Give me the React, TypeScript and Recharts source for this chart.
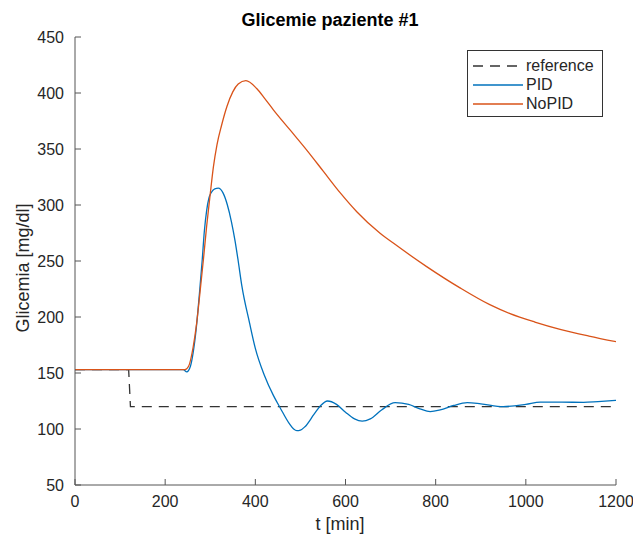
import { LineChart, Line, XAxis, YAxis, Legend } from "recharts";

const FONT = "'Liberation Sans', Arial, sans-serif";

// reference setpoint
const refT = [0, 119, 123, 1200];
const refV = [153, 153, 120, 120];

// PID controlled glycemia
const pidT = [0, 240, 248, 256, 262, 269, 276, 282, 287, 292, 297, 302, 310, 318, 328, 338, 347, 355, 362, 370, 387, 400, 420, 440, 455, 475, 485, 492, 500, 510, 530, 545, 560, 580, 600, 620, 637, 655, 680, 710, 740, 765, 788, 810, 840, 870, 900, 950, 1000, 1032, 1080, 1128, 1160, 1200];
const pidV = [153, 153, 151, 156, 168, 190, 221, 250, 277, 295, 306, 311, 314.5, 315, 311, 300, 285, 268, 250, 228, 195, 172, 148, 130, 119, 105, 100, 98.5, 99, 102, 113, 121, 125, 122, 115, 109, 107, 109, 117, 123.5, 122, 118, 115.5, 117, 121, 123.5, 122.5, 120, 122, 124, 124, 123.8, 124.5, 125.5];

// without PID
const noPidT = [0, 244, 252, 262, 270, 277, 285, 292, 300, 307, 315, 325, 337, 350, 362, 379, 403, 421, 440, 477, 514, 551, 588, 625, 676, 706, 780, 854, 920, 965, 1020, 1076, 1140, 1200];
const noPidV = [153, 153, 156, 173, 195, 221, 252, 281, 310, 334, 354, 371, 388, 401, 408, 411, 404, 395, 385, 367, 349, 330, 311, 294, 275, 266, 245, 226, 211, 203, 195.5, 189, 183, 178];

const xTicks = [0, 200, 400, 600, 800, 1000, 1200];
const yTicks = [50, 100, 150, 200, 250, 300, 350, 400, 450];

const toPoints = (ts: number[], vs: number[]) => ts.map((t, i) => ({ t, v: vs[i] }));

const refData = toPoints(refT, refV);
const pidData = toPoints(pidT, pidV);
const noPidData = toPoints(noPidT, noPidV);

const series = [
  { name: "reference", color: "#333333", dash: "10 7" },
  { name: "PID", color: "#0072BD", dash: undefined },
  { name: "NoPID", color: "#D95319", dash: undefined },
];

const LegendBox = () => (
  <div
    style={{
      border: "1px solid #333",
      background: "#fff",
      width: 136,
      height: 67,
      boxSizing: "border-box",
      padding: "5px 0 0 4px",
      fontFamily: FONT,
      fontSize: 16,
      color: "#262626",
    }}
  >
    {series.map((s) => (
      <div key={s.name} style={{ display: "flex", alignItems: "center", height: 19 }}>
        <svg width={52} height={10}>
          <line x1={1} y1={5} x2={51} y2={5} stroke={s.color} strokeWidth={1.3} strokeDasharray={s.dash} />
        </svg>
        <span style={{ marginLeft: 2 }}>{s.name}</span>
      </div>
    ))}
  </div>
);

const App = () => {
  const tickStyle = { fontSize: 16, fill: "#262626", fontFamily: FONT };
  return (
    <div style={{ position: "absolute", left: 0, top: 0, width: 633, height: 537, background: "#fff" }}>
      <LineChart width={633} height={537} margin={{ top: 37, right: 17, left: 0, bottom: 0 }}>
        <XAxis
          dataKey="t"
          type="number"
          domain={[0, 1200]}
          ticks={xTicks}
          height={52}
          stroke="#555"
          tickSize={-6}
          tickMargin={17}
          tick={tickStyle}
          allowDataOverflow
        />
        <YAxis
          dataKey="v"
          type="number"
          domain={[50, 450]}
          ticks={yTicks}
          width={75}
          stroke="#555"
          tickSize={-6}
          tickMargin={17}
          tick={tickStyle}
          allowDataOverflow
        />
        <Line data={refData} dataKey="v" name="reference" type="linear" stroke="#333333" strokeWidth={1.3} strokeDasharray="10 7" dot={false} isAnimationActive={false} />
        <Line data={pidData} dataKey="v" name="PID" type="monotone" stroke="#0072BD" strokeWidth={1.3} dot={false} isAnimationActive={false} />
        <Line data={noPidData} dataKey="v" name="NoPID" type="monotone" stroke="#D95319" strokeWidth={1.3} dot={false} isAnimationActive={false} />
        <Legend
          layout="horizontal"
          verticalAlign="middle"
          align="center"
          content={() => <LegendBox />}
          wrapperStyle={{ left: 467, top: 50, width: 136, height: 67 }}
        />
      </LineChart>
      <svg width={633} height={537} style={{ position: "absolute", left: 0, top: 0, pointerEvents: "none" }}>
        <text x={330} y={26} textAnchor="middle" fontFamily={FONT} fontSize={18} fontWeight="bold" fill="#000">
          Glicemie paziente #1
        </text>
        <text x={340} y={530} textAnchor="middle" fontFamily={FONT} fontSize={18} fill="#262626">
          t [min]
        </text>
        <text x={29} y={268} textAnchor="middle" fontFamily={FONT} fontSize={18} fill="#262626" transform="rotate(-90 29 268)">
          Glicemia [mg/dl]
        </text>
      </svg>
    </div>
  );
};

export default App;
